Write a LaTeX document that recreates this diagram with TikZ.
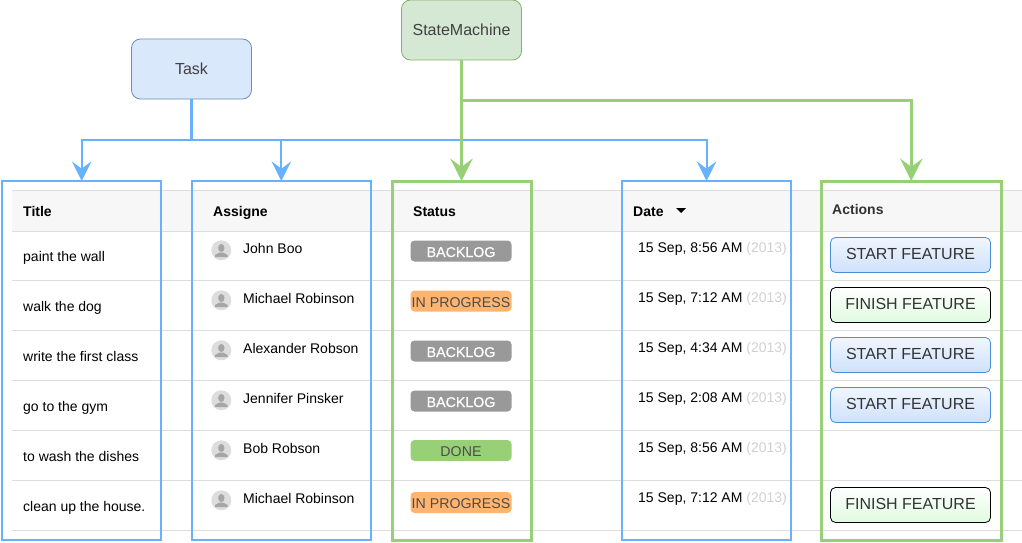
\documentclass[tikz,border=0pt]{standalone}
\usepackage{fontspec}
\setmainfont{Liberation Sans}
\usetikzlibrary{arrows}
\usetikzlibrary{decorations.markings}
\definecolor{colblue}{HTML}{66B2FF}
\definecolor{colgreen}{HTML}{97D077}
\definecolor{rowline}{HTML}{DDDDDD}
\definecolor{taskfill}{HTML}{DAE8FC}
\definecolor{taskline}{HTML}{6C8EBF}
\definecolor{machinefill}{HTML}{D5E8D4}
\definecolor{machineline}{HTML}{82B366}
\definecolor{progressfill}{HTML}{FFB570}
\definecolor{startline}{HTML}{4A8FD6}
\definecolor{starttop}{HTML}{F0F6FF}
\definecolor{startbottom}{HTML}{CFE1FB}
\definecolor{finishbottom}{HTML}{DFFBDF}
\tikzset{headtip/.style = {shorten > = 8, decoration={markings,
                                       mark=at position 1 with {\arrow[scale=#1]{stealth}}},
                           postaction={decorate}}}
\tikzset{entity/.style = {draw, line width = 0.8, rounded corners = 9, minimum width = 120, minimum height = 60,
                          inner sep = 0, text = black!75, font = \fontsize{16}{16}\selectfont}}
\tikzset{column/.style = {draw, line width = 2, inner sep = 0, outer sep = 0, anchor = north west,
                          minimum height = 359}}
\tikzset{head/.style = {anchor = base west, inner sep = 0, font = \fontsize{14}{14}\bfseries\selectfont}}
\tikzset{cell/.style = {anchor = base west, inner sep = 0, font = \fontsize{14}{14}\selectfont}}
\tikzset{badge/.style = {rounded corners = 4, minimum width = 101, minimum height = 21, inner sep = 0,
                         text height = 12, text depth = 0, font = \fontsize{14.2}{15}\selectfont}}
\tikzset{btn/.style = {draw, line width = 0.8, rounded corners = 5, minimum width = 160, minimum height = 35, inner sep = 0,
                       text height = 8, text depth = 0, text = black!80, font = \fontsize{16}{17}\selectfont}}
\tikzset{startbtn/.style = {btn, draw = startline, top color = starttop, bottom color = startbottom}}
\tikzset{finishbtn/.style = {btn, draw = black, top color = white, bottom color = finishbottom}}
\tikzset{avatar/.style = {circle, fill = rowline, inner sep = 0, minimum size = 20}}
\begin{document}
\begin{tikzpicture}[x = 1pt, y = -1pt]
      \useasboundingbox (0, 0) rectangle (1022, 543);

      % table
      \fill [black!3] (12, 190) rectangle (1022, 231);
      \foreach \y in {190, 231, 280, 330, 380, 430, 480, 530}
        \draw [rowline, line width = 0.8] (12, \y) -- (1022, \y);

      \node [head] (titlehead) at (23, 216) {Title};
      \node [head] (assignehead) at (213, 216) {Assigne};
      \node [head] (statushead) at (413, 216) {Status};
      \node [head] (datehead) at (633, 216) {Date};
      \node [head, text = black!80] (actionshead) at (832, 214) {Actions};
      \fill (676, 208) -- (686, 208) -- (681, 213) -- cycle;

      \foreach \i/\t in {0/paint the wall, 1/walk the dog, 2/write the first class,
                         3/go to the gym, 4/to wash the dishes, 5/clean up the house.}
        \node [cell] (title\i) at (23, 261 + 50*\i) {\t};

      \foreach \i/\t in {0/John Boo, 1/Michael Robinson, 2/Alexander Robson,
                         3/Jennifer Pinsker, 4/Bob Robson, 5/Michael Robinson} {
        \node [avatar] (avatar\i) at (221.3, 250.3 + 50*\i) {};
        \fill [black!35] (221.3, 248 + 50*\i) ellipse (3.2 and 4);
        \fill [black!35] (215, 257 + 50*\i) -- (215, 255 + 50*\i) -- (219.5, 252.5 + 50*\i)
          -- (223, 252.5 + 50*\i) -- (227.6, 255 + 50*\i) -- (227.6, 257 + 50*\i) -- cycle;
        \node [cell] (name\i) at (243, 253 + 50*\i) {\t};
      }

      \foreach \i/\t in {0/8:56, 1/7:12, 2/4:34, 3/2:08, 4/8:56, 5/7:12}
        \node [cell] (date\i) at (638, 252 + 50*\i) {15 Sep, \t{} AM \textcolor{black!18}{(2013)}};

      \tikzset{backlog/.style = {badge, fill = black!40, text = white,
                                 font = \fontsize{14.2}{15}\selectfont\addfontfeatures{FakeBold=0.6}},
               progress/.style = {badge, fill = progressfill, text = black!70},
               finished/.style = {badge, fill = colgreen, text = black!70}}
      \node [backlog] (status0) at (461, 251) {BACKLOG};
      \node [progress] (status1) at (461, 301) {IN PROGRESS};
      \node [backlog] (status2) at (461, 351) {BACKLOG};
      \node [backlog] (status3) at (461, 401) {BACKLOG};
      \node [finished] (status4) at (461, 450.5) {DONE};
      \node [progress] (status5) at (461, 502.5) {IN PROGRESS};

      \node [startbtn] (action0) at (910.5, 255) {START FEATURE};
      \node [finishbtn] (action1) at (910.5, 305) {FINISH FEATURE};
      \node [startbtn] (action2) at (910.5, 355) {START FEATURE};
      \node [startbtn] (action3) at (910.5, 405) {START FEATURE};
      \node [finishbtn] (action5) at (910.5, 505) {FINISH FEATURE};

      % column frames
      \node [column, draw = colblue, minimum width = 159.3] (titlecol) at (2, 181) {};
      \node [column, draw = colblue, minimum width = 179.3] (assignecol) at (191.7, 181) {};
      \node [column, draw = colgreen, line width = 3, minimum width = 138.5] (statuscol) at (392.5, 181) {};
      \node [column, draw = colblue, minimum width = 169.6] (datecol) at (621.7, 181) {};
      \node [column, draw = colgreen, line width = 3, minimum width = 179.7] (actionscol) at (821.5, 181) {};

      \node [entity, draw = taskline, fill = taskfill] (task) at (191.5, 69) {Task};
      \node [entity, draw = machineline, fill = machinefill] (machine) at (461.5, 30) {StateMachine};

      % connectors
      \coordinate (taskbus) at (task.south |- 0, 140);
      \coordinate (machinebus) at (machine.south |- 0, 100);
      \draw [colblue, line width = 3] (task.south) -- (taskbus);
      \draw [colblue, line width = 2, headtip = 2.8] (taskbus) -| (titlecol.north);
      \draw [colblue, line width = 2, headtip = 2.8] (taskbus) -| (assignecol.north);
      \draw [colblue, line width = 2, headtip = 2.8] (taskbus) -| (datecol.north);
      \draw [colgreen, line width = 3, headtip = 2.4] (machine.south) -- (machine.south |- statuscol.north);
      \draw [colgreen, line width = 3, headtip = 2.4] (machinebus) -| (actionscol.north);
    \end{tikzpicture}
\end{document}
